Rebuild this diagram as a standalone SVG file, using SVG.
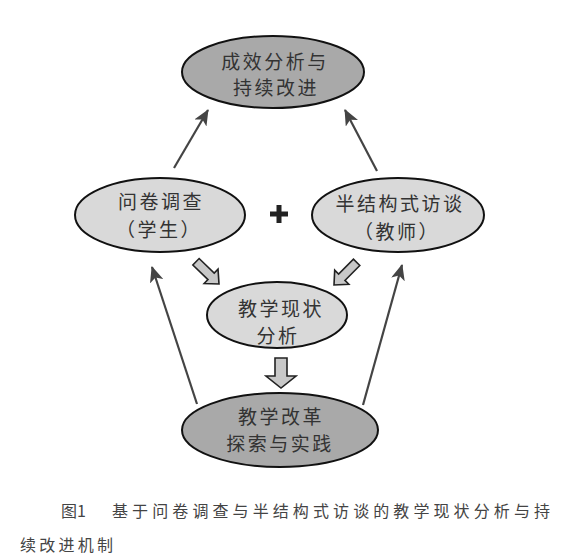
<svg xmlns="http://www.w3.org/2000/svg" width="563" height="556" viewBox="0 0 563 556">
<defs>
<style>
.dark{fill:#a9a9a9;stroke:#111;stroke-width:2}
.light{fill:#d9d9d9;stroke:#111;stroke-width:2}
.lbl{font-family:"Noto Sans CJK SC","Noto Sans",sans-serif;font-size:19px;fill:#333;text-anchor:middle;letter-spacing:2.5px}
.cap{font-family:"Noto Sans CJK SC","Noto Sans",sans-serif;font-size:16px;fill:#444}
.conn{stroke:#444;stroke-width:2.2;fill:none;marker-end:url(#ah)}
.blk{fill:#c8c8c8;stroke:#222;stroke-width:1.6;stroke-linejoin:miter}
</style>
<marker id="ah" markerUnits="userSpaceOnUse" viewBox="0 0 16 14" refX="15" refY="7" markerWidth="16" markerHeight="14" orient="auto">
<path d="M0,0 L16,7 L0,14 L4,7 Z" fill="#444"/>
</marker>
<path id="diag" d="M-32,-4.5 L-11,-4.5 L-11,-10 L0,0 L-11,10 L-11,4.5 L-32,4.5 Z"/>
</defs>
<rect width="563" height="556" fill="#fff"/>
<g id="connectors">
<line class="conn" x1="174" y1="168" x2="208" y2="110"/>
<line class="conn" x1="377" y1="171" x2="345" y2="110"/>
<line class="conn" x1="197" y1="404" x2="152" y2="267"/>
<line class="conn" x1="363" y1="405" x2="402" y2="265"/>
<use href="#diag" class="blk" transform="translate(219,284) rotate(44)"/>
<use href="#diag" class="blk" transform="translate(334,285) rotate(135)"/>
<path class="blk" d="M275,358 L287,358 L287,376 L296,376 L281,388 L266,376 L275,376 Z"/>
</g>
<g id="node-top">
<ellipse class="dark" cx="273" cy="72" rx="91" ry="36"/>
<text class="lbl" x="275" y="69">成效分析与</text>
<text class="lbl" x="276" y="95">持续改进</text>
</g>
<g id="node-left">
<ellipse class="light" cx="160" cy="215" rx="85" ry="37"/>
<text class="lbl" x="161" y="209">问卷调查</text>
<text class="lbl" x="159" y="237">（学生）</text>
</g>
<g id="node-right">
<ellipse class="light" cx="398" cy="215" rx="86" ry="37"/>
<text class="lbl" x="400" y="211">半结构式访谈</text>
<text class="lbl" x="397" y="239">（教师）</text>
</g>
<g id="plus">
<path d="M276.5,205 h5 v6.5 h6.5 v5 h-6.5 v6.5 h-5 v-6.5 h-6.5 v-5 h6.5 Z" fill="#222"/>
</g>
<g id="node-mid">
<ellipse class="light" cx="277" cy="315" rx="70" ry="33"/>
<text class="lbl" x="281" y="316">教学现状</text>
<text class="lbl" x="278" y="343">分析</text>
</g>
<g id="node-bottom">
<ellipse class="dark" cx="280" cy="430" rx="98" ry="37"/>
<text class="lbl" x="281" y="424">教学改革</text>
<text class="lbl" x="280" y="451">探索与实践</text>
</g>
<g id="caption">
<text class="cap" x="61" y="517">图1</text>
<text class="cap" x="112" y="517" textLength="438" lengthAdjust="spacing">基于问卷调查与半结构式访谈的教学现状分析与持</text>
<text class="cap" x="20" y="551" textLength="93" lengthAdjust="spacing">续改进机制</text>
</g>
</svg>
